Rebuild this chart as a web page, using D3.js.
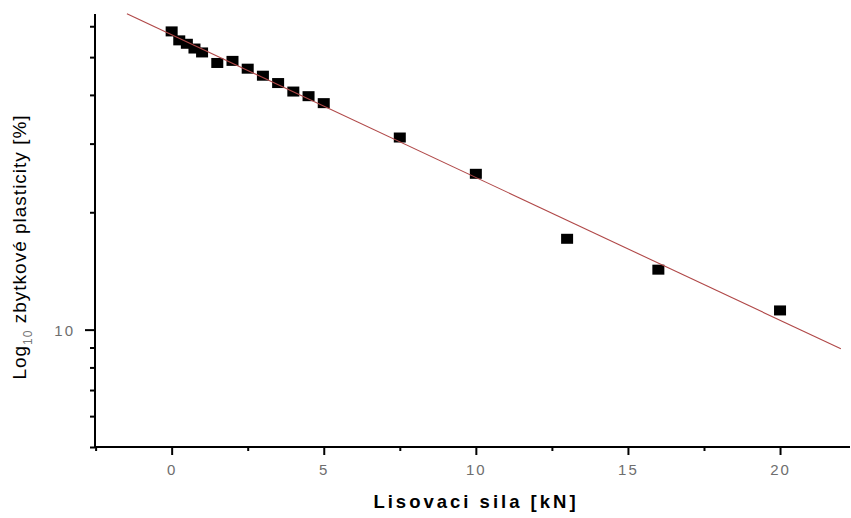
<!DOCTYPE html>
<html>
<head>
<meta charset="utf-8">
<script src="https://cdn.jsdelivr.net/npm/d3@7"></script>
<style>
  html, body { margin: 0; padding: 0; background: #fff; }
  svg { display: block; }
</style>
</head>
<body>
<svg id="chart" width="851" height="518"></svg>
<script>
// ---- data ----
const forceKN = [0, 0.25, 0.5, 0.75, 1, 1.5, 2, 2.5, 3, 3.5, 4, 4.5, 5, 7.5, 10, 13, 16, 20];
const plasticity = [58.2, 55.2, 54.1, 52.6, 51.4, 48.3, 48.9, 46.7, 44.8, 42.9, 40.8, 39.7, 38.1, 31.1, 25.1, 17.1, 14.25, 11.2];
const fitX = [-1.47, 22.0];
const fitY = [64.6, 8.93];
const xMajorTicks = [0, 5, 10, 15, 20];
const xMinorTicks = [-2.5, 2.5, 7.5, 12.5, 17.5];
const yMajorTicks = [10];
const yMinorTicks = [5, 6, 7, 8, 9, 20, 30, 40, 50, 60];
const xTitle = "Lisovaci sila [kN]";
const yTitleMain = "Log";
const yTitleSub = "10";
const yTitleRest = " zbytkové plasticity [%]";

// ---- layout ----
const svg = d3.select("#chart");
const pLeft = 95, pRight = 850, pTop = 14, pBottom = 447;

const x = d3.scaleLinear().domain([-2.52, 22.3]).range([pLeft, pRight]);
const y = d3.scaleLog().domain([5, 64.5]).range([pBottom, pTop]);

// markers
svg.append("g").selectAll("rect")
  .data(forceKN.map((d, i) => [d, plasticity[i]]))
  .join("rect")
  .attr("x", d => x(d[0]) - 6)
  .attr("y", d => y(d[1]) - 5)
  .attr("width", 12)
  .attr("height", 10)
  .attr("fill", "#000");

// fit line
const line = d3.line().x(d => x(d[0])).y(d => y(d[1]));
svg.append("path")
  .datum(fitX.map((d, i) => [d, fitY[i]]))
  .attr("d", line)
  .attr("fill", "none")
  .attr("stroke", "#b04848")
  .attr("stroke-width", 1.1);

// axes
function styleAxis(g) {
  g.selectAll("path.domain").attr("stroke", "#000").attr("stroke-width", 2);
  g.selectAll(".tick line").attr("stroke", "#000").attr("stroke-width", 2);
}

const xMinor = svg.append("g").attr("transform", `translate(0,${pBottom})`)
  .call(d3.axisBottom(x).tickValues(xMinorTicks).tickSize(4).tickSizeOuter(0).tickFormat(""));
styleAxis(xMinor);
const xMajor = svg.append("g").attr("transform", `translate(0,${pBottom})`)
  .call(d3.axisBottom(x).tickValues(xMajorTicks).tickSize(8).tickSizeOuter(0).tickFormat(d3.format("d")));
styleAxis(xMajor);
xMajor.selectAll(".tick text")
  .attr("y", 28).attr("dy", null)
  .attr("fill", "#6e6e6e")
  .style("font-family", "'Liberation Sans', Arial, sans-serif")
  .style("font-size", "15px")
  .style("letter-spacing", "2px");

const yMinor = svg.append("g").attr("transform", `translate(${pLeft},0)`)
  .call(d3.axisLeft(y).tickValues(yMinorTicks).tickSize(5).tickSizeOuter(0).tickFormat(""));
styleAxis(yMinor);
const yMajor = svg.append("g").attr("transform", `translate(${pLeft},0)`)
  .call(d3.axisLeft(y).tickValues(yMajorTicks).tickSize(10).tickSizeOuter(0).tickFormat(d3.format("d")));
styleAxis(yMajor);
yMajor.selectAll(".tick text")
  .attr("x", -20).attr("dy", "0.36em")
  .attr("fill", "#6e6e6e")
  .style("font-family", "'Liberation Sans', Arial, sans-serif")
  .style("font-size", "15px")
  .style("letter-spacing", "2px");

xMajor.select("path.domain").attr("d", `M${pLeft},0H${pRight}`);
xMinor.select("path.domain").remove();
yMajor.select("path.domain").attr("d", `M0,${pTop}V${pBottom}`);
yMinor.select("path.domain").remove();

// x title
svg.append("text")
  .attr("x", 476).attr("y", 508)
  .attr("text-anchor", "middle")
  .attr("fill", "#000")
  .style("font-family", "'Liberation Sans', Arial, sans-serif")
  .style("font-size", "18.5px")
  .style("font-weight", "bold")
  .style("letter-spacing", "3px")
  .text(xTitle);

// y title
const yt = svg.append("text")
  .attr("transform", "translate(26,247) rotate(-90)")
  .attr("text-anchor", "middle")
  .attr("fill", "#000")
  .style("font-family", "'Liberation Sans', Arial, sans-serif")
  .style("font-size", "19px")
  .style("letter-spacing", "1px");
yt.append("tspan").text(yTitleMain);
yt.append("tspan").attr("dy", 6).style("font-size", "12px").attr("fill", "#777").text(yTitleSub);
yt.append("tspan").attr("dy", -6).text(yTitleRest);
</script>
</body>
</html>
